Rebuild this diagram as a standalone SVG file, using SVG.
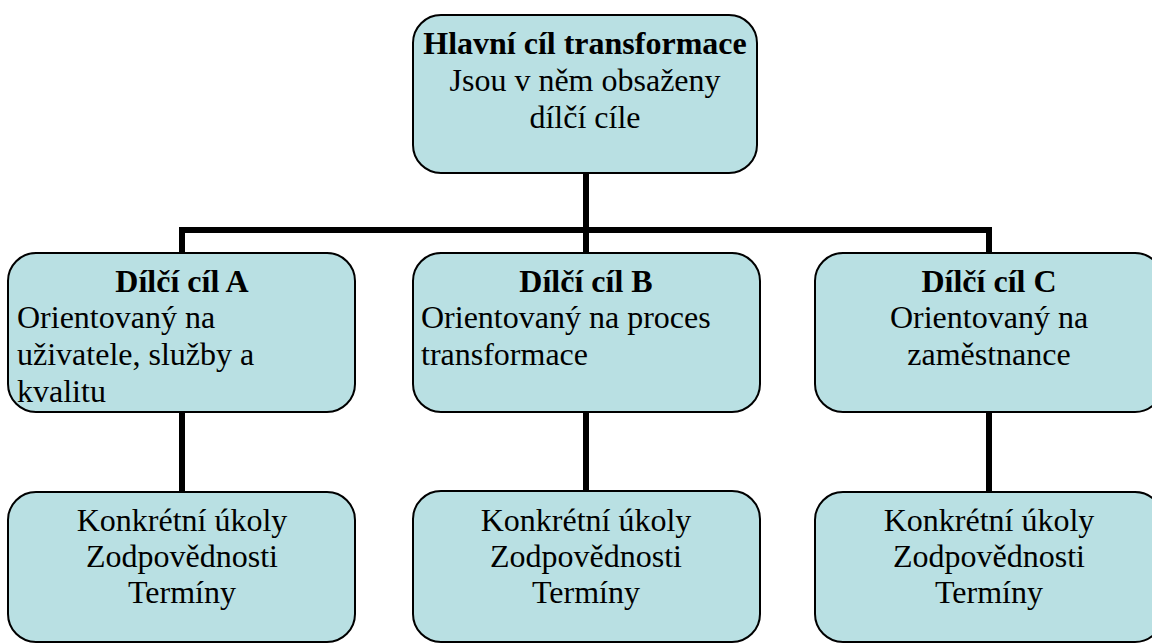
<svg xmlns="http://www.w3.org/2000/svg" width="1152" height="643" viewBox="0 0 1152 643">
  <style>
    .box { fill: #B9E0E3; stroke: #000000; stroke-width: 2; }
    .t { font-size: 32px; fill: #000000; }
    .c { text-anchor: middle; }
    .b { font-weight: bold; }
    .conn { stroke: #000000; stroke-width: 6; fill: none; }
  </style>
  <rect x="0" y="0" width="1152" height="643" fill="#FFFFFF"/>
  <g id="connectors">
    <line class="conn" x1="586" y1="173" x2="586" y2="230"/>
    <polyline class="conn" points="182,253 182,230 989,230 989,253"/>
    <line class="conn" x1="586" y1="230" x2="586" y2="253"/>
    <line class="conn" x1="182" y1="412" x2="182" y2="492"/>
    <line class="conn" x1="586" y1="412" x2="586" y2="491"/>
    <line class="conn" x1="989" y1="412" x2="989" y2="492"/>
  </g>
  <g font-family="Liberation Serif, DejaVu Serif, serif">
  <g id="main">
    <rect class="box" x="413" y="15" width="344" height="158" rx="28" ry="28"/>
    <text class="t b c" x="585" y="54">Hlavní cíl transformace</text>
    <text class="t c" x="585" y="91">Jsou v něm obsaženy</text>
    <text class="t c" x="585" y="128">dílčí cíle</text>
  </g>
  <g id="goalA">
    <rect class="box" x="8" y="253" width="347" height="159" rx="28" ry="28"/>
    <text class="t b c" x="182" y="292">Dílčí cíl A</text>
    <text class="t" x="17" y="328">Orientovaný na</text>
    <text class="t" x="17" y="365">uživatele, služby a</text>
    <text class="t" x="17" y="402">kvalitu</text>
  </g>
  <g id="goalB">
    <rect class="box" x="413" y="253" width="347" height="159" rx="28" ry="28"/>
    <text class="t b c" x="586" y="292">Dílčí cíl B</text>
    <text class="t" x="421" y="328">Orientovaný na proces</text>
    <text class="t" x="421" y="365">transformace</text>
  </g>
  <g id="goalC">
    <rect class="box" x="815" y="253" width="348" height="159" rx="28" ry="28"/>
    <text class="t b c" x="989" y="292">Dílčí cíl C</text>
    <text class="t c" x="989" y="328">Orientovaný na</text>
    <text class="t c" x="989" y="365">zaměstnance</text>
  </g>
  <g id="tasksA">
    <rect class="box" x="8" y="492" width="347" height="150" rx="28" ry="28"/>
    <text class="t c" x="182" y="531">Konkrétní úkoly</text>
    <text class="t c" x="182" y="567">Zodpovědnosti</text>
    <text class="t c" x="182" y="603">Termíny</text>
  </g>
  <g id="tasksB">
    <rect class="box" x="413" y="491" width="347" height="151" rx="28" ry="28"/>
    <text class="t c" x="586" y="531">Konkrétní úkoly</text>
    <text class="t c" x="586" y="567">Zodpovědnosti</text>
    <text class="t c" x="586" y="603">Termíny</text>
  </g>
  <g id="tasksC">
    <rect class="box" x="815" y="492" width="348" height="150" rx="28" ry="28"/>
    <text class="t c" x="989" y="531">Konkrétní úkoly</text>
    <text class="t c" x="989" y="567">Zodpovědnosti</text>
    <text class="t c" x="989" y="603">Termíny</text>
  </g>
  </g>
</svg>
